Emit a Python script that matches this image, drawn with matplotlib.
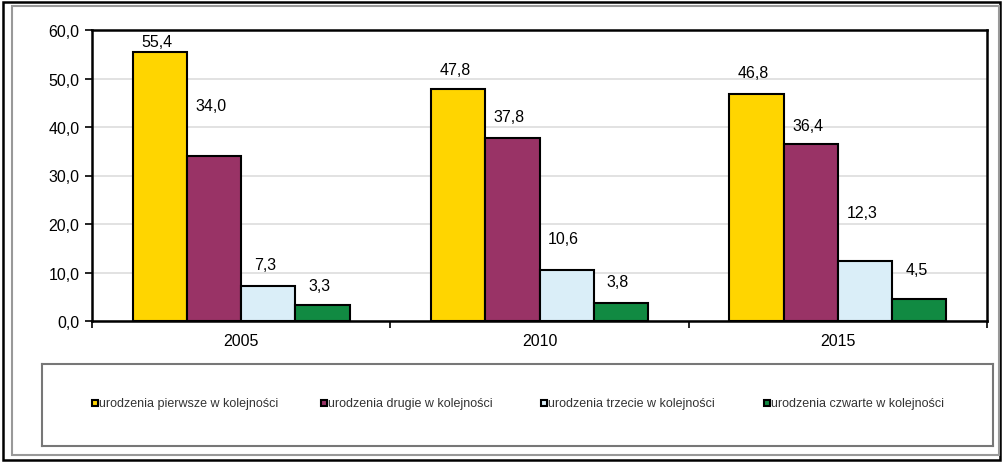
import matplotlib.pyplot as plt
import numpy as np
from matplotlib.patches import Rectangle

plt.rcParams['font.family'] = ['Liberation Sans', 'DejaVu Sans']

years = ['2005', '2010', '2015']
series = ['urodzenia pierwsze w kolejności', 'urodzenia drugie w kolejności',
          'urodzenia trzecie w kolejności', 'urodzenia czwarte w kolejności']
first = [55.4, 47.8, 46.8]
second = [34.0, 37.8, 36.4]
third = [7.3, 10.6, 12.3]
fourth = [3.3, 3.8, 4.5]
values = [first, second, third, fourth]
colors = ['#FFD500', '#993366', '#DAEEF8', '#118A42']

# label lift above bar top, in pixels (hand placed in the original)
lift = [[11, 20, 22], [51, 21, 19], [21, 31, 49], [19, 21, 30]]

W, H = 1005, 464
fig = plt.figure(figsize=(W / 100, H / 100), dpi=100)

# outer frames
fig.patches.append(Rectangle((3 / W, 3 / H), 997 / W, 458 / H, transform=fig.transFigure,
                             fill=False, edgecolor='black', lw=1.8))
fig.patches.append(Rectangle((12 / W, 8 / H), 987 / W, 449 / H, transform=fig.transFigure,
                             fill=False, edgecolor='#999999', lw=1.5))

ax = fig.add_axes([92 / W, (H - 322) / H, 895 / W, 291 / H])
x = np.arange(len(years))
bw = 0.182
for i, (vals, c) in enumerate(zip(values, colors)):
    pos = x + (i - 1.5) * bw
    ax.bar(pos, vals, bw, color=c, edgecolor='black', linewidth=1.5, label=series[i], zorder=3)
    for p, v, d in zip(pos, vals, lift[i]):
        ax.annotate(f'{v:.1f}'.replace('.', ','), (p - 0.01, v), xytext=(0, d),
                    textcoords='offset pixels', ha='center', va='center', fontsize=11.5)

ax.set_xlim(-0.5, 2.5)
ax.set_ylim(0, 60)
ax.set_yticks(np.arange(0, 61, 10))
ax.set_yticklabels([f'{t:.1f}'.replace('.', ',') for t in np.arange(0, 61, 10)], fontsize=11.5)
ax.yaxis.grid(True, color='#DDDDDD', lw=1.2, zorder=0)
ax.tick_params(axis='y', length=5, width=1.2, pad=4)

ax.set_xticks(x)
ax.set_xticklabels(years, fontsize=11.5)
ax.tick_params(axis='x', length=0, pad=9)
ax.set_xticks([-0.5, 0.5, 1.5, 2.5], minor=True)
ax.tick_params(axis='x', which='minor', length=5, width=1.2)
for s in ax.spines.values():
    s.set_linewidth(1.8)

# legend box
lg = fig.add_axes([42 / W, (H - 447) / H, 951 / W, 82 / H])
lg.set_xlim(0, 951)
lg.set_ylim(0, 82)
lg.set_xticks([])
lg.set_yticks([])
for s in lg.spines.values():
    s.set_edgecolor('#777777')
    s.set_linewidth(1.5)
lx = [54, 283, 503, 726]
for xi, c, name in zip(lx, colors, series):
    lg.add_patch(Rectangle((xi - 4, 40), 6, 6, facecolor=c, edgecolor='black', lw=1.5))
    lg.text(xi + 3, 43, name, fontsize=9, color='#333333', va='center', ha='left')

fig.savefig('out.png', dpi=100)
